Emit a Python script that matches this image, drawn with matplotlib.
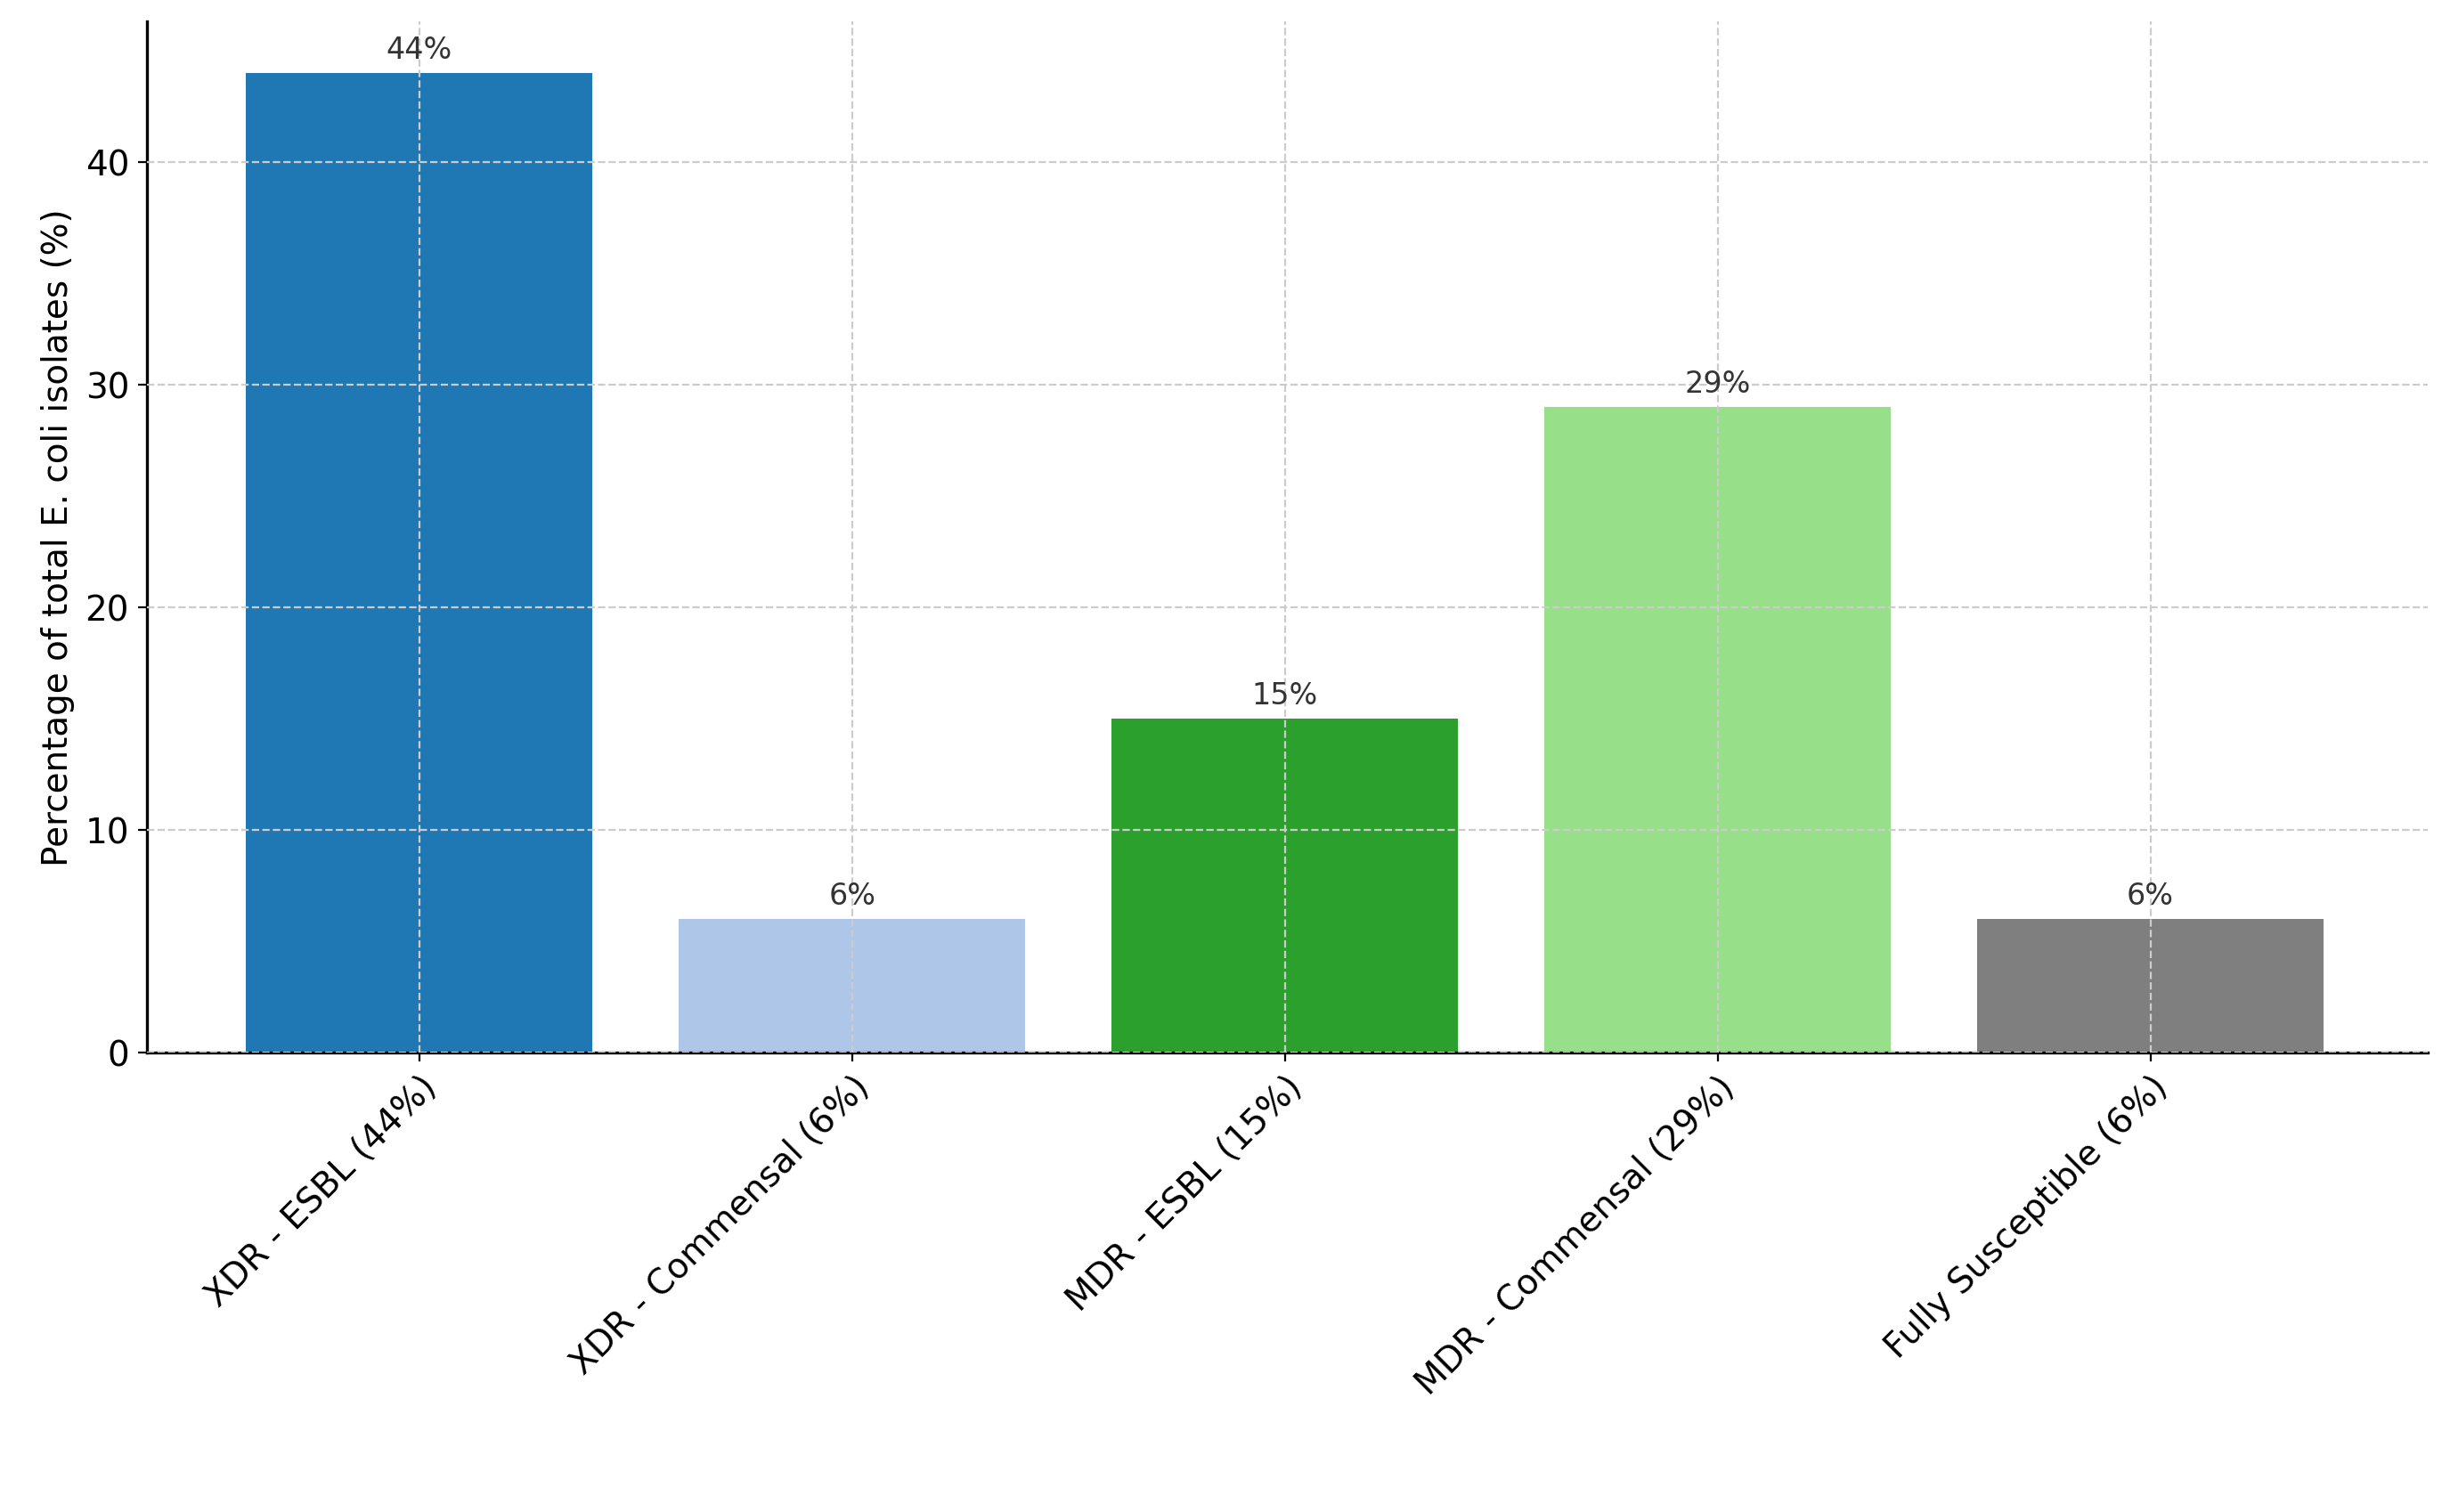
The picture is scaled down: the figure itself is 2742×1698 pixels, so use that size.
import matplotlib
matplotlib.use("Agg")
import matplotlib.pyplot as plt

categories = ["XDR - ESBL (44%)", "XDR - Commensal (6%)", "MDR - ESBL (15%)",
              "MDR - Commensal (29%)", "Fully Susceptible (6%)"]
values = [44, 6, 15, 29, 6]
labels = ["44%", "6%", "15%", "29%", "6%"]
colors = ["#1f77b4", "#aec7e8", "#2ca02c", "#98df8a", "#7f7f7f"]

fig = plt.figure(figsize=(13.71, 8.495), dpi=200)
ax = fig.add_axes([0.06, 0.304, 0.934, 0.681])
x = range(len(categories))
ax.bar(x, values, width=0.8, color=colors, zorder=1)
for i, (v, l) in enumerate(zip(values, labels)):
    ax.text(i, v + 0.4, l, ha="center", va="bottom", fontsize=12, color="#333333")
ax.set_xlim(-0.63, 4.64)
ax.set_ylim(0, 46.3)
ax.set_yticks([0, 10, 20, 30, 40])
ax.set_xticks(list(x))
ax.set_xticklabels(categories, rotation=45, ha="right", rotation_mode="anchor", fontsize=14)
ax.tick_params(axis="y", labelsize=14)
ax.set_ylabel("Percentage of total E. coli isolates (%)", fontsize=14)
ax.grid(True, linestyle="--", color="#cccccc", linewidth=0.8, zorder=2)
ax.set_axisbelow(False)
for s in ["top", "right"]:
    ax.spines[s].set_visible(False)
ax.spines["left"].set_linewidth(1.2)
ax.spines["bottom"].set_linewidth(1.2)
fig.savefig("out.png", dpi=200)
